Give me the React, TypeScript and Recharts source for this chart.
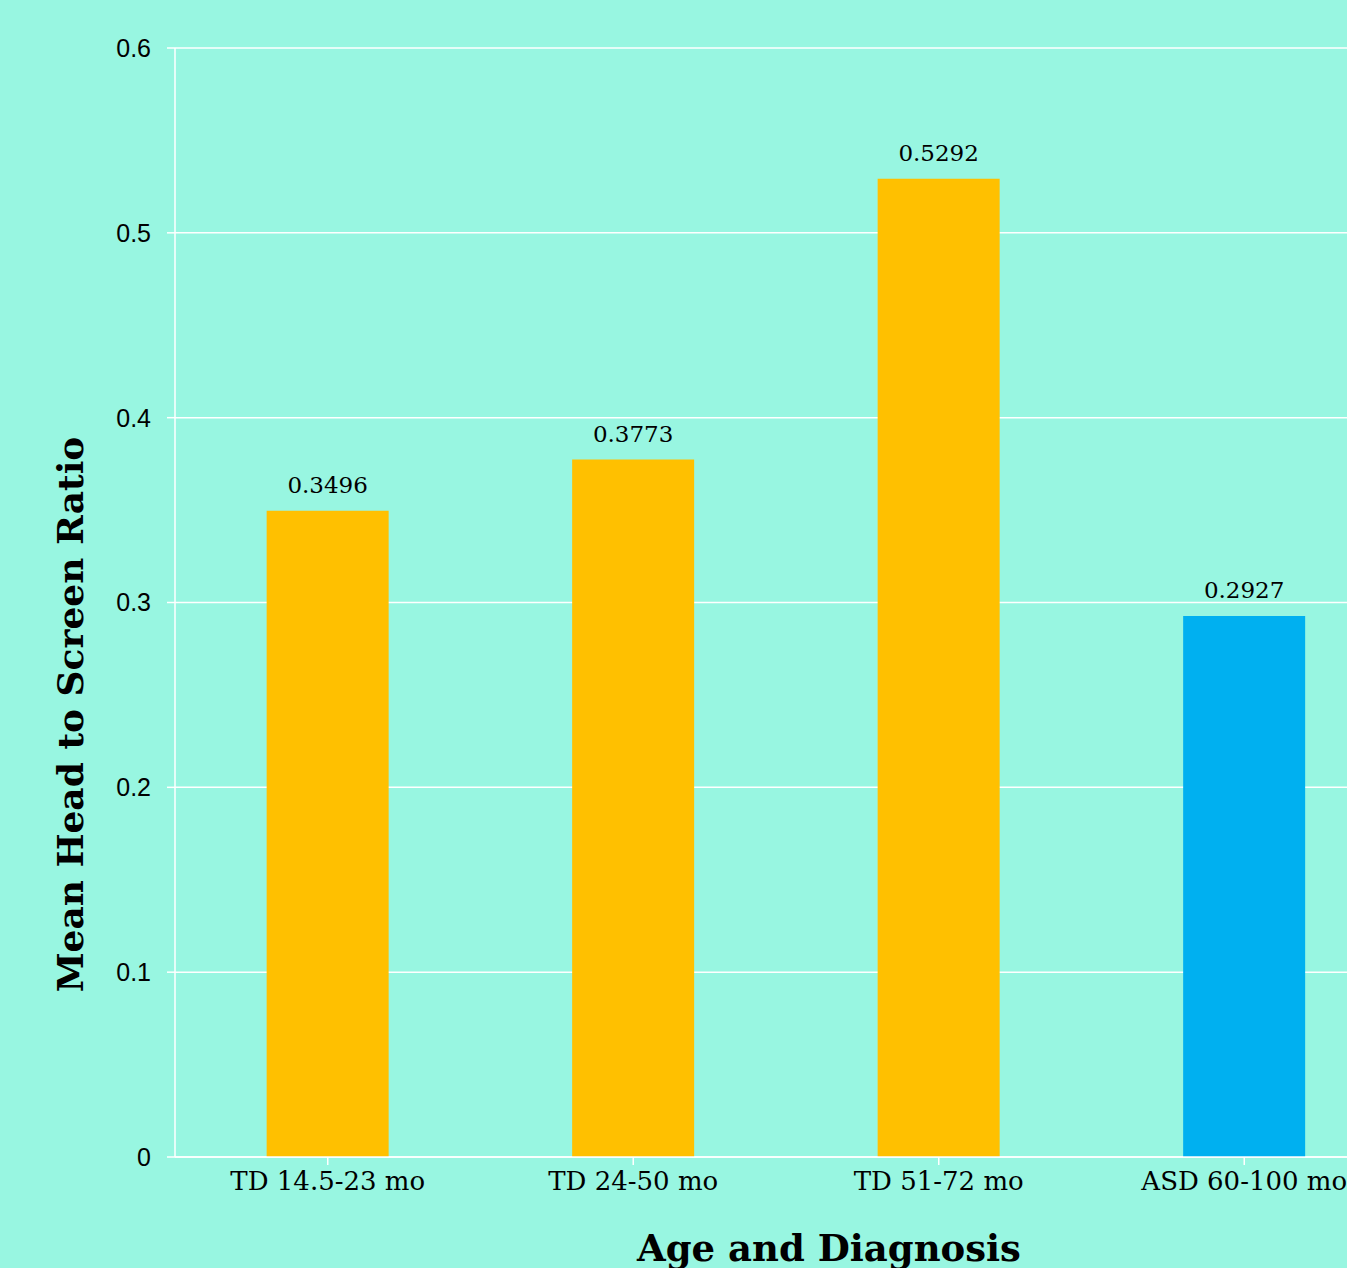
import React from "react";
import { BarChart, Bar, XAxis, YAxis, CartesianGrid, Cell, LabelList, Label } from "recharts";

const categories = ["TD 14.5-23 mo", "TD 24-50 mo", "TD 51-72 mo", "ASD 60-100 mo"];
const ratios = [0.3496, 0.3773, 0.5292, 0.2927];
const barColors = ["#FFC000", "#FFC000", "#FFC000", "#00B0F0"];
const yTicks = [0, 0.1, 0.2, 0.3, 0.4, 0.5, 0.6];

const data = categories.map((name, i) => ({ name, value: ratios[i] }));

const BG = "#98F6E1";
const LINE = "#FFFFFF";
const SERIF = "'DejaVu Serif', serif";

type VB = { x?: number; y?: number; width?: number; height?: number };

const YTitle = (props: { viewBox?: VB }) => {
  const vb = props.viewBox || {};
  const cx = 70;
  const cy = (vb.y ?? 0) + (vb.height ?? 0) / 2 + 112;
  return (
    <text
      x={cx}
      y={cy}
      transform={`rotate(-90 ${cx} ${cy})`}
      textAnchor="middle"
      dominantBaseline="central"
      fontFamily={SERIF}
      fontWeight={700}
      fontSize={36}
      fill="#000"
    >
      Mean Head to Screen Ratio
    </text>
  );
};

const XTitle = (props: { viewBox?: VB }) => {
  const vb = props.viewBox || {};
  const cx = (vb.x ?? 0) + (vb.width ?? 0) / 2 + 43;
  return (
    <text
      x={cx}
      y={(vb.y ?? 0) + 104}
      textAnchor="middle"
      fontFamily={SERIF}
      fontWeight={700}
      fontSize={37}
      fill="#000"
    >
      Age and Diagnosis
    </text>
  );
};

export default function App() {
  return (
    <div
      style={{
        position: "absolute",
        left: 0,
        top: 0,
        width: 1347,
        height: 1268,
        overflow: "hidden",
        background: BG,
      }}
    >
      <BarChart
        width={1400}
        height={1268}
        data={data}
        margin={{ top: 48, right: 3, bottom: 0, left: 0 }}
        barCategoryGap="30%"
      >
        <CartesianGrid vertical={false} stroke={LINE} strokeWidth={1.5} />
        <XAxis
          dataKey="name"
          height={111}
          stroke={LINE}
          strokeWidth={1.5}
          tickSize={8}
          tickMargin={7}
          tick={{ fill: "#000", fontFamily: SERIF, fontSize: 26 }}
          interval={0}
        >
          <Label content={<XTitle />} />
        </XAxis>
        <YAxis
          width={175}
          domain={[0, 0.6]}
          ticks={yTicks}
          stroke={LINE}
          strokeWidth={1.5}
          tickSize={8}
          tickMargin={16}
          tick={{ fill: "#000", fontFamily: "'Liberation Sans', Arial, sans-serif", fontSize: 25 }}
        >
          <Label content={<YTitle />} />
        </YAxis>
        <Bar dataKey="value" isAnimationActive={false}>
          {data.map((d, i) => (
            <Cell key={d.name} fill={barColors[i]} />
          ))}
          <LabelList
            dataKey="value"
            position="top"
            offset={18}
            fill="#000"
            fontFamily={SERIF}
            fontSize={23}
          />
        </Bar>
      </BarChart>
    </div>
  );
}
